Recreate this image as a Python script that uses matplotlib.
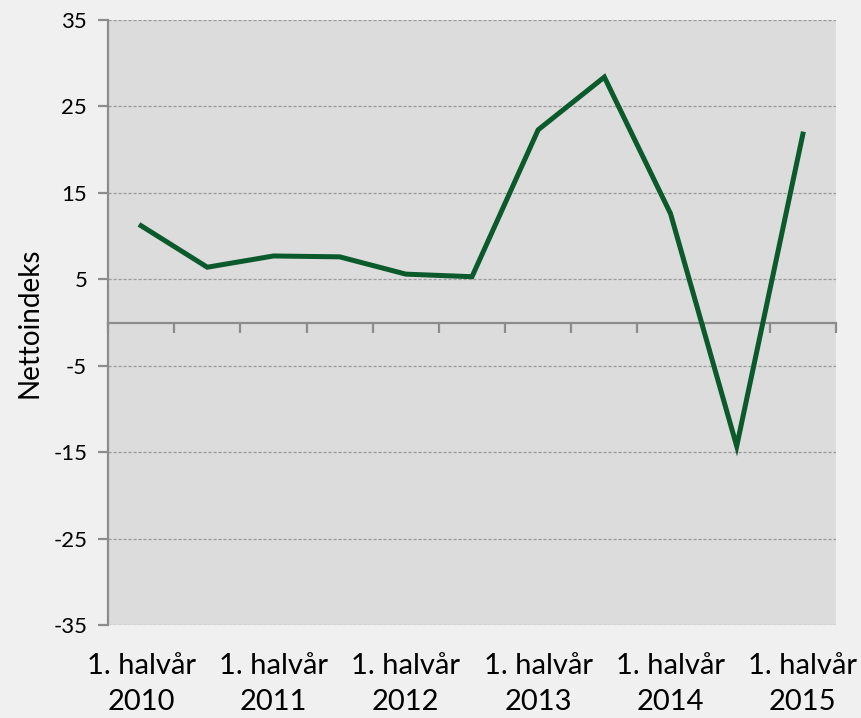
import matplotlib.pyplot as plt
import numpy as np

plt.rcParams['font.family'] = ['Lato', 'DejaVu Sans']
plt.rcParams['axes.unicode_minus'] = False

# halvår 2010 H1 .. 2015 H1
periods = ["1. halvår\n2010", "2. halvår\n2010", "1. halvår\n2011", "2. halvår\n2011",
           "1. halvår\n2012", "2. halvår\n2012", "1. halvår\n2013", "2. halvår\n2013",
           "1. halvår\n2014", "2. halvår\n2014", "1. halvår\n2015"]
nettoindeks = [11.2, 6.4, 7.7, 7.6, 5.6, 5.3, 22.3, 28.4, 12.6, -14.3, 21.8]
yticks = [-35, -25, -15, -5, 5, 15, 25, 35]

fig = plt.figure(figsize=(8.62, 7.18), dpi=100, facecolor="#f0f0f0")
ax = fig.add_axes([0.1253, 0.1295, 0.8445, 0.8426])
ax.set_facecolor("#dcdcdc")

x = np.arange(len(periods))
ax.plot(x, nettoindeks, color="#0b5a2b", linewidth=3.6, solid_joinstyle="miter", zorder=3)

ax.set_xlim(-0.5, len(periods) - 0.5)
ax.set_ylim(-35, 35)
ax.set_yticks(yticks)
ax.yaxis.grid(True, linestyle=(0, (2.5, 1.5)), color="#9a9a9a", linewidth=0.9)
ax.set_axisbelow(True)

for s in ["top", "right", "bottom"]:
    ax.spines[s].set_visible(False)
ax.spines["left"].set_color("#8c8c8c")
ax.spines["left"].set_linewidth(1.6)
ax.tick_params(axis="y", length=7, width=1.6, color="#8c8c8c", labelsize=16, pad=8)

# category labels only on the first half of each year
ax.set_xticks(x[::2])
ax.set_xticklabels(periods[::2], fontsize=21, linespacing=1.5)
ax.tick_params(axis="x", length=0, pad=20)

# zero line with category boundary ticks (secondary axis at 0.5 uses the top spine)
zero = ax.secondary_xaxis(0.5)
zero.set_xticks(np.arange(-0.5, len(periods), 1.0))
zero.set_xticklabels([])
zero.spines["top"].set_color("#8c8c8c")
zero.spines["top"].set_linewidth(1.6)
zero.tick_params(axis="x", length=7, width=1.6, color="#8c8c8c", direction="in")

ax.set_ylabel("Nettoindeks", fontsize=20, labelpad=8)

fig.savefig("out.png", dpi=100, facecolor=fig.get_facecolor())
